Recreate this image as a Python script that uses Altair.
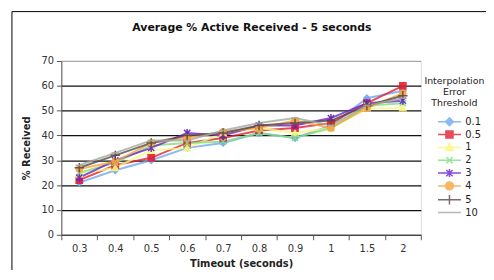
import altair as alt
import pandas as pd

timeouts = ["0.3", "0.4", "0.5", "0.6", "0.7", "0.8", "0.9", "1", "1.5", "2"]
series = ["0.1", "0.5", "1", "2", "3", "4", "5", "10"]

v_01 = [21, 26, 30, 35, 37, 41, 39, 44, 55, 58]
v_05 = [22, 28, 31, 37, 39, 42, 43, 45, 53, 60]
v_1 = [24.5, 27, 34, 35, 41, 43, 41, 43, 51, 51]
v_2 = [25, 29, 36, 37, 37.5, 41, 39, 43, 52, 53]
v_3 = [23, 30, 35, 41, 40, 44, 44, 47, 53, 54]
v_4 = [26.5, 29.5, 37, 39, 41.5, 43, 46, 43, 51, 57]
v_5 = [27, 32, 37, 40, 41, 44, 45, 46, 52, 56]
v_10 = [28, 33, 38, 38, 42, 45, 47, 44, 52, 55]
values = [v_01, v_05, v_1, v_2, v_3, v_4, v_5, v_10]

colors = ["#6fa8f0", "#e02030", "#fbf77a", "#7ee07e", "#6a20d0", "#f5a540", "#5a4848", "#a0aaa0"]
markers = [
    "diamond", "square", "triangle-up",
    "M-1,-1L1,1M-1,1L1,-1",
    "M-1,-1L1,1M-1,1L1,-1M0,-1.3V1.3",
    "circle",
    "M-1.5,0H1.5M0,-1.5V1.5",
    "M-1.2,0H1.2",
]
legend_paths = [
    "M-2.9,0H2.9M0,-1L1,0L0,1L-1,0Z",
    "M-2.9,0H2.9M-0.9,-0.9H0.9V0.9H-0.9Z",
    "M-2.9,0H2.9M0,-1L1,0.8H-1Z",
    "M-2.9,0H2.9M-0.8,-0.8L0.8,0.8M-0.8,0.8L0.8,-0.8",
    "M-2.9,0H2.9M-0.8,-0.8L0.8,0.8M-0.8,0.8L0.8,-0.8M0,-1V1",
    "M-2.9,0H2.9M1,0A1,1,0,1,1,-1,0A1,1,0,1,1,1,0Z",
    "M-2.9,0H2.9M0,-1.2V1.2",
    "M-2.9,0H2.9M-1,0H1",
]

rows = []
for s, vals, m in zip(series, values, markers):
    for t, v in zip(timeouts, vals):
        rows.append({"timeout": t, "series": s, "value": v, "marker": m})
df = pd.DataFrame(rows)

font = "DejaVu Sans"
cscale = alt.Scale(domain=series, range=colors)
xenc = alt.X("timeout:N", sort=timeouts, title="Timeout (seconds)",
             scale=alt.Scale(paddingInner=0, paddingOuter=0),
             axis=alt.Axis(labelAngle=0, tickBand="extent", tickSize=5, labelPadding=4,
                           titleFontWeight="bold", titleFontSize=10, titlePadding=5,
                           labelFontSize=10, labelColor="#333", titleColor="#222",
                           domainColor="#555", tickColor="#555", labelFont=font, titleFont=font))
yenc = alt.Y("value:Q", title="% Received",
             scale=alt.Scale(domain=[0, 70], nice=False),
             axis=alt.Axis(values=[0, 10, 20, 30, 40, 50, 60, 70], tickSize=5, labelPadding=3,
                           grid=True,
                           gridColor={"condition": {"test": "datum.value == 70", "value": "#aaaaaa"}, "value": "#111111"},
                           gridWidth=1.3,
                           titleFontWeight="bold", titleFontSize=10, titlePadding=10,
                           labelFontSize=10, labelColor="#333", titleColor="#222",
                           domainColor="#555", tickColor="#555", labelFont=font, titleFont=font))

leg = alt.Legend(
    title=["Interpolation", "Error", "Threshold"],
    orient="none", legendX=368, legendY=15,
    titleFont=font, titleFontSize=9.5, titleFontWeight="normal", titleColor="#222",
    titleAlign="center", titleAnchor="middle", titlePadding=9,
    labelFont=font, labelFontSize=10, labelColor="#222",
    symbolSize=64, symbolStrokeWidth=1.5, symbolOffset=16, labelOffset=11, rowPadding=-1,
)

base = alt.Chart(df)

lines = base.mark_line(strokeWidth=2, opacity=0.8).encode(
    x=xenc, y=yenc,
    stroke=alt.Stroke("series:N", scale=cscale, legend=leg, sort=series),
    detail="series:N",
)

points = base.mark_point(filled=True, size=40, strokeWidth=1.5, opacity=0.9).encode(
    x=xenc, y=yenc,
    fill=alt.Fill("series:N", scale=cscale, legend=leg, sort=series),
    stroke=alt.Stroke("series:N", scale=cscale, legend=leg, sort=series),
    shape=alt.Shape("marker:N", scale=None),
)

legend_layer = base.mark_point(filled=True, size=0).encode(
    x=xenc, y=yenc,
    fill=alt.Fill("series:N", scale=cscale, legend=leg, sort=series),
    stroke=alt.Stroke("series:N", scale=cscale, legend=leg, sort=series),
    shape=alt.Shape("series:N", scale=alt.Scale(domain=series, range=legend_paths), legend=leg, sort=series),
)

frame_v = alt.Chart(pd.DataFrame({"a": [0]})).mark_rule(color="black", strokeWidth=1, clip=False).encode(
    x=alt.value(-50), y=alt.value(-50), y2=alt.value(260))
frame_h = alt.Chart(pd.DataFrame({"a": [0]})).mark_rule(color="black", strokeWidth=1, clip=False).encode(
    x=alt.value(-50), x2=alt.value(460), y=alt.value(-50))

chart = alt.layer(lines, points, legend_layer, frame_v, frame_h).properties(
    width=364, height=176,
    title=alt.TitleParams("Average % Active Received - 5 seconds", font=font, fontSize=11,
                          fontWeight="bold", color="#111", offset=-22, dx=11, anchor="middle",
                          frame="group"),
    autosize=alt.AutoSizeParams(type="none"),
    padding={"left": 54, "top": 52, "right": 66, "bottom": 34},
).configure_view(fill="#c9c9c9", stroke="#999999").configure(background="white")

chart.save("out.html", embed_options={"renderer": "svg", "actions": False})
